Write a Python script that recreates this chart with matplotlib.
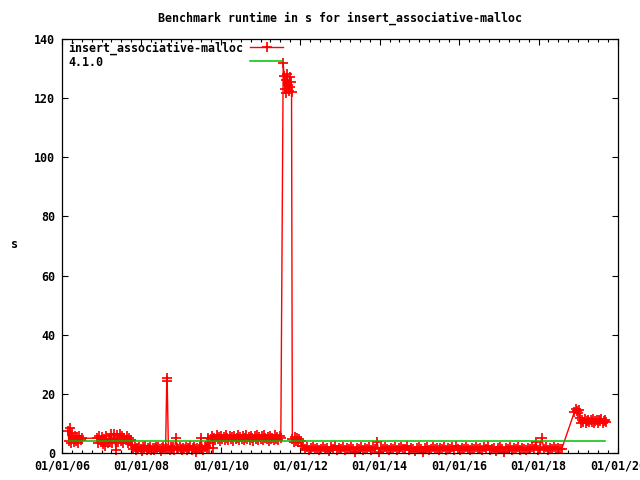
import matplotlib
matplotlib.use("Agg")
import matplotlib.pyplot as plt
import matplotlib.dates as mdates
from matplotlib.lines import Line2D
from matplotlib.ticker import MultipleLocator
from datetime import datetime, timedelta

# ---- data (dates as decimal years, runtimes in s) ----
t_a = [2006.15, 2006.17, 2006.19, 2006.22, 2006.24, 2006.27, 2006.29, 2006.32,
       2006.35, 2006.38, 2006.41, 2006.44, 2006.47, 2006.50]
v_a = [7.6, 4.2, 8.6, 3.4, 6.9, 5.2, 3.6, 5.8, 4.1, 5.5, 3.3, 5.9, 4.3, 5.0]

t_b = [2006.88, 2006.91, 2006.94, 2006.97, 2007.00, 2007.03, 2007.06, 2007.09,
       2007.12, 2007.15, 2007.18, 2007.21, 2007.24, 2007.27, 2007.30, 2007.33,
       2007.36, 2007.39, 2007.42, 2007.45, 2007.48, 2007.51, 2007.54, 2007.57,
       2007.60, 2007.63, 2007.66, 2007.69, 2007.72, 2007.74]
v_b = [5.0, 3.4, 5.9, 4.0, 5.5, 3.2, 4.8, 2.2, 5.6, 3.5, 4.9, 3.8, 6.3, 3.3, 6.4,
       4.6, 1.0, 6.2, 3.6, 6.5, 4.1, 5.7, 3.4, 5.2, 4.4, 5.8, 3.5, 5.0, 3.9, 4.5]

t_c = [2007.77, 2007.80, 2007.83, 2007.86, 2007.89, 2007.92, 2007.95, 2007.98,
       2008.01, 2008.04, 2008.07, 2008.10, 2008.13, 2008.16, 2008.19, 2008.22,
       2008.25, 2008.28, 2008.31, 2008.34, 2008.37, 2008.40, 2008.43, 2008.46,
       2008.49, 2008.52, 2008.55, 2008.58, 2008.61, 2008.64, 2008.65, 2008.68,
       2008.71, 2008.74, 2008.77, 2008.80, 2008.83, 2008.87, 2008.90, 2008.93,
       2008.96, 2008.99, 2009.02, 2009.05, 2009.08, 2009.11, 2009.14, 2009.17,
       2009.20, 2009.23, 2009.26, 2009.29, 2009.32, 2009.35, 2009.38, 2009.41,
       2009.44, 2009.47, 2009.50, 2009.53, 2009.56, 2009.59, 2009.62, 2009.65]
v_c = [2.6, 1.4, 2.1, 0.9, 1.8, 1.2, 2.0, 1.5, 0.8, 1.9,
       1.3, 2.2, 1.0, 1.7, 1.4, 2.0, 1.1, 1.8, 0.9, 1.6,
       2.1, 1.2, 1.9, 1.4, 0.8, 1.7, 2.0, 1.3, 1.6, 25.5,
       24.2, 1.5, 1.1, 1.9, 1.4, 2.0, 1.0, 5.0, 1.6, 1.2,
       2.1, 1.5, 0.9, 1.8, 1.3, 2.0, 1.1, 1.7, 1.4, 2.2,
       1.0, 1.6, 1.9, 1.2, 0.2, 1.8, 1.3, 2.0, 5.2, 1.5,
       1.0, 1.9, 2.4, 1.7]

t_d = [2009.68, 2009.71, 2009.74, 2009.77, 2009.80, 2009.83, 2009.86, 2009.89,
       2009.92, 2009.95, 2009.98, 2010.01, 2010.04, 2010.07, 2010.10, 2010.13,
       2010.16, 2010.19, 2010.22, 2010.25, 2010.28, 2010.31, 2010.34, 2010.37,
       2010.40, 2010.43, 2010.46, 2010.49, 2010.52, 2010.55, 2010.58, 2010.61,
       2010.64, 2010.67, 2010.70, 2010.73, 2010.76, 2010.79, 2010.82, 2010.85,
       2010.88, 2010.91, 2010.94, 2010.97, 2011.00, 2011.03, 2011.06, 2011.09,
       2011.12, 2011.15, 2011.18, 2011.21, 2011.24, 2011.27, 2011.30, 2011.33,
       2011.36, 2011.39, 2011.42, 2011.45, 2011.48, 2011.51]
v_d = [5.2, 1.8, 4.6, 5.8, 1.7, 5.0, 4.3, 6.0, 4.8, 5.5,
       4.2, 5.9, 4.7, 5.3, 4.4, 6.1, 5.0, 4.5, 5.7, 4.9,
       5.4, 4.1, 5.9, 4.6, 5.2, 6.0, 4.4, 5.5, 4.8, 5.8,
       4.3, 5.1, 6.1, 4.7, 5.4, 4.5, 5.9, 5.0, 4.2, 5.6,
       4.9, 6.0, 4.4, 5.3, 4.8, 5.7, 4.3, 6.1, 5.0, 4.6,
       5.5, 4.2, 5.8, 4.9, 5.2, 4.5, 6.0, 4.7, 5.4, 4.4,
       5.6, 5.0]

t_spike = [2011.57, 2011.59, 2011.61, 2011.63, 2011.65, 2011.67, 2011.69,
           2011.71, 2011.73, 2011.75, 2011.77, 2011.78]
v_spike = [132.0, 127.5, 123.0, 126.0, 121.8, 128.0, 124.5, 122.5, 127.0,
           123.8, 125.5, 122.0]

t_e = [2011.80, 2011.83, 2011.86, 2011.89, 2011.92, 2011.95, 2011.98, 2012.01, 2012.04]
v_e = [4.6, 3.8, 5.3, 4.2, 5.0, 3.6, 4.8, 4.0, 2.5]

t_f = [2012.08, 2012.13, 2012.18, 2012.23, 2012.28, 2012.33, 2012.38, 2012.43,
       2012.48, 2012.53, 2012.58, 2012.63, 2012.68, 2012.73, 2012.78, 2012.83,
       2012.88, 2012.93, 2012.98,
       2013.03, 2013.08, 2013.13, 2013.18, 2013.23, 2013.28, 2013.33, 2013.38,
       2013.43, 2013.48, 2013.53, 2013.58, 2013.63, 2013.68, 2013.73, 2013.78,
       2013.83, 2013.88, 2013.93, 2013.98,
       2014.03, 2014.08, 2014.13, 2014.18, 2014.23, 2014.28, 2014.33, 2014.38,
       2014.43, 2014.48, 2014.53, 2014.58, 2014.63, 2014.68, 2014.73, 2014.78,
       2014.83, 2014.88, 2014.93, 2014.98,
       2015.03, 2015.08, 2015.13, 2015.18, 2015.23, 2015.28, 2015.33, 2015.38,
       2015.43, 2015.48, 2015.53, 2015.58, 2015.63, 2015.68, 2015.73, 2015.78,
       2015.83, 2015.88, 2015.93, 2015.98,
       2016.03, 2016.08, 2016.13, 2016.18, 2016.23, 2016.28, 2016.33, 2016.38,
       2016.43, 2016.48, 2016.53, 2016.58, 2016.63, 2016.68, 2016.73, 2016.78,
       2016.83, 2016.88, 2016.93, 2016.98,
       2017.03, 2017.08, 2017.13, 2017.18, 2017.23, 2017.28, 2017.33, 2017.38,
       2017.43, 2017.48, 2017.53, 2017.58, 2017.63, 2017.68, 2017.73, 2017.78,
       2017.83, 2017.88, 2017.93, 2017.98,
       2018.03, 2018.08, 2018.13, 2018.18, 2018.23, 2018.28, 2018.33, 2018.38,
       2018.43, 2018.48, 2018.53, 2018.58]
v_f = [2.2, 1.4, 1.9, 0.9, 1.6, 2.1, 1.2, 1.8, 1.0, 1.5, 2.0, 1.3, 1.7, 0.8, 1.9,
       1.4, 2.2, 1.1, 1.6,
       1.3, 2.0, 1.0, 1.7, 1.5, 1.9, 1.2, 0.2, 1.8, 1.4, 2.1, 1.0, 1.6, 1.3, 2.0,
       1.1, 1.7, 1.5, 3.7, 0.3,
       1.8, 1.2, 2.0, 1.5, 0.9, 1.7, 1.3, 2.1, 1.0, 1.6, 1.9, 1.2, 1.5, 2.2, 1.1,
       1.8, 1.4, 0.8, 1.7, 2.0,
       1.3, 0.2, 1.6, 1.9, 1.1, 1.5, 2.1, 1.2, 1.8, 1.0, 1.7, 1.4, 2.0, 0.9, 1.6,
       1.3, 1.9, 1.1, 2.2, 1.5,
       1.0, 1.8, 1.3, 2.0, 1.5, 0.9, 1.7, 1.2, 2.1, 1.4, 1.6, 1.0, 1.9, 1.3, 2.2,
       1.1, 1.5, 1.8, 0.8, 1.6,
       1.9, 1.2, 0.2, 1.7, 1.4, 2.0, 1.1, 1.6, 1.3, 2.1, 1.0, 1.8, 1.5, 0.9, 1.7,
       1.2, 2.0, 1.4, 3.6, 1.1,
       1.6, 5.0, 1.3, 1.9, 1.0, 1.7, 1.4, 2.1, 1.2, 1.8, 1.5, 1.3]

t_g = [2018.90, 2018.93, 2018.96, 2018.99, 2019.02,
       2019.04, 2019.07, 2019.10, 2019.13, 2019.16, 2019.19, 2019.22, 2019.25,
       2019.28, 2019.31, 2019.34, 2019.37, 2019.40, 2019.43, 2019.46, 2019.49,
       2019.52, 2019.55, 2019.58, 2019.61, 2019.64, 2019.67, 2019.70]
v_g = [13.8, 15.0, 14.2, 13.5, 14.6,
       11.8, 10.2, 11.0, 10.5, 11.5, 10.0, 10.8, 11.3, 10.4, 11.0, 10.6, 11.4,
       10.1, 10.9, 11.2, 10.3, 11.0, 10.7, 11.5, 10.2, 10.8, 11.1, 10.6]

# reference version 4.1.0
t_ref = [2006.15, 2019.68]
v_ref = [4.0, 4.0]

series_name = "insert_associative-malloc"
ref_name = "4.1.0"
title = "Benchmark runtime in s for insert_associative-malloc"


def to_date(y):
    yr = int(y)
    return datetime(yr, 1, 1) + timedelta(days=(y - yr) * 365.25)


times = t_a + t_b + t_c + t_d + t_spike + t_e + t_f + t_g
vals = v_a + v_b + v_c + v_d + v_spike + v_e + v_f + v_g
dates = [to_date(t) for t in times]
ref_dates = [to_date(t) for t in t_ref]

FS = 8.4
FONT = {"family": "DejaVu Sans Mono", "weight": "bold", "size": FS}
plt.rcParams["font.family"] = "DejaVu Sans Mono"
plt.rcParams["font.weight"] = "bold"
plt.rcParams["font.size"] = FS

W, H = 640, 480
fig = plt.figure(figsize=(6.4, 4.8), dpi=100)
L, R, T, B = 62, 618, 39, 453
ax = fig.add_axes([L / W, 1 - B / H, (R - L) / W, (B - T) / H])

RED = "#ff0000"
GREEN = "#00c000"
MS, MEW = 7.0, 1.25
ax.plot(dates, vals, color=RED, lw=1.0, marker="+", ms=MS, mew=MEW,
        clip_on=False, zorder=2)
ax.plot(ref_dates, v_ref, color=GREEN, lw=1.1, zorder=3)

ax.set_ylim(0, 140)
ax.set_xlim(datetime(2006, 1, 1), datetime(2020, 1, 1))
ax.yaxis.set_major_locator(MultipleLocator(20))
ax.xaxis.set_major_locator(mdates.YearLocator(2))
ax.xaxis.set_minor_locator(mdates.MonthLocator(bymonth=[1, 4, 7, 10]))
ax.xaxis.set_major_formatter(mdates.DateFormatter("%m/%d/%y"))

ax.tick_params(which="both", direction="in", top=True, right=True, width=0.8,
               colors="black", labelsize=FS, pad=5)
ax.tick_params(which="major", length=4.5)
ax.tick_params(which="minor", length=2.2)
for s in ax.spines.values():
    s.set_linewidth(0.9)
for lab in ax.get_xticklabels() + ax.get_yticklabels():
    lab.set_fontweight("bold")

# title and y label
fig.text(340 / W, 1 - 18 / H, title, ha="center", va="center", fontdict=FONT)
fig.text(14 / W, 1 - 245 / H, "s", ha="center", va="center", fontdict=FONT)

# gnuplot-style key (text left, sample right)
fig.text(68 / W, 1 - 48 / H, series_name, ha="left", va="center", fontdict=FONT)
fig.text(68 / W, 1 - 62 / H, ref_name, ha="left", va="center", fontdict=FONT)
fig.add_artist(Line2D([250 / W, 283 / W], [1 - 47 / H, 1 - 47 / H],
                      color=RED, lw=1.0, transform=fig.transFigure))
fig.add_artist(Line2D([266.5 / W], [1 - 47 / H], color=RED, marker="+", ms=MS,
                      mew=MEW, transform=fig.transFigure))
fig.add_artist(Line2D([250 / W, 283 / W], [1 - 61 / H, 1 - 61 / H],
                      color=GREEN, lw=1.1, transform=fig.transFigure))

fig.savefig("out.png", dpi=100)
